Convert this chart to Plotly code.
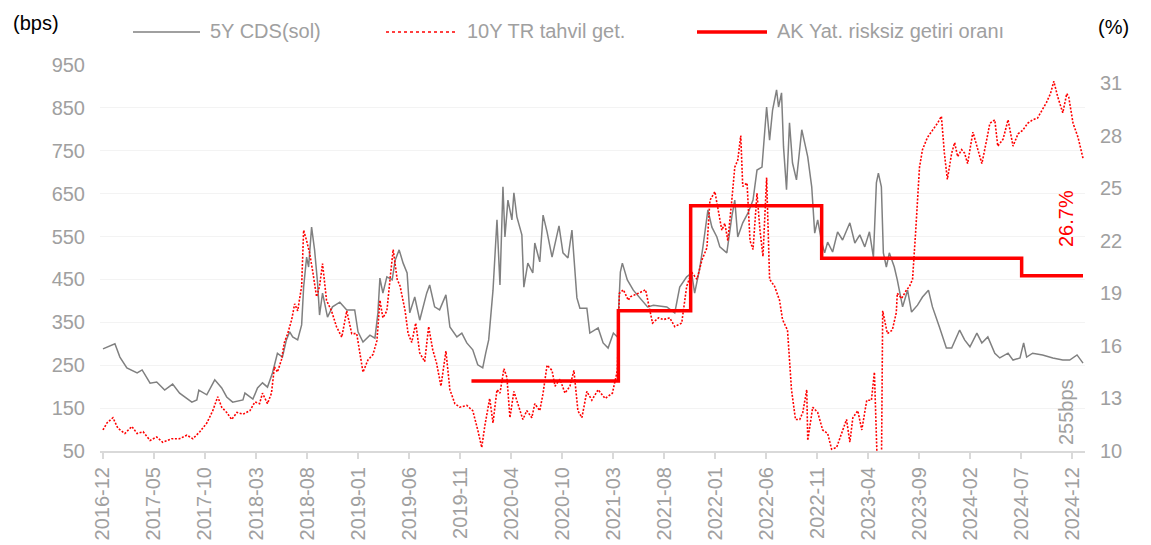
import plotly.graph_objects as go
import pandas as pd

# ---------------- data ----------------
cds_dates = [
    "2016-12-01", "2017-01-06", "2017-01-21", "2017-02-11", "2017-03-14", "2017-03-29", "2017-04-22",
    "2017-05-12", "2017-06-05", "2017-06-29", "2017-07-20", "2017-08-26", "2017-09-10", "2017-09-16",
    "2017-10-10", "2017-11-03", "2017-11-24", "2017-12-09", "2017-12-27", "2018-01-27", "2018-02-02",
    "2018-02-26", "2018-03-12", "2018-03-27", "2018-04-11", "2018-04-26", "2018-05-11", "2018-05-26",
    "2018-06-07", "2018-06-17", "2018-06-26", "2018-07-11", "2018-07-23", "2018-07-29", "2018-08-07",
    "2018-08-13", "2018-08-22", "2018-08-31", "2018-09-09", "2018-09-15", "2018-09-24", "2018-10-09",
    "2018-10-24", "2018-11-15", "2018-12-06", "2018-12-30", "2019-01-09", "2019-01-24", "2019-02-14",
    "2019-03-01", "2019-03-10", "2019-03-16", "2019-03-25", "2019-04-06", "2019-04-22", "2019-05-01",
    "2019-05-13", "2019-05-25", "2019-06-06", "2019-06-14", "2019-06-29", "2019-07-14", "2019-08-04",
    "2019-08-13", "2019-08-28", "2019-09-12", "2019-10-01", "2019-10-13", "2019-11-03", "2019-11-18",
    "2019-12-03", "2019-12-21", "2020-01-05", "2020-01-20", "2020-01-29", "2020-02-07", "2020-02-20",
    "2020-03-03", "2020-03-12", "2020-03-21", "2020-03-27", "2020-04-05", "2020-04-17", "2020-04-23",
    "2020-05-02", "2020-05-17", "2020-05-23", "2020-06-04", "2020-06-19", "2020-06-25", "2020-07-10",
    "2020-07-20", "2020-08-01", "2020-08-16", "2020-09-06", "2020-09-18", "2020-10-03", "2020-10-15",
    "2020-10-30", "2020-11-08", "2020-11-29", "2020-12-08", "2021-01-02", "2021-01-17", "2021-02-01",
    "2021-02-17", "2021-03-01", "2021-03-10", "2021-03-16", "2021-03-31", "2021-04-18", "2021-05-09",
    "2021-05-31", "2021-06-18", "2021-07-28", "2021-08-21", "2021-09-05", "2021-09-26", "2021-10-11",
    "2021-10-20", "2021-11-05", "2021-11-14", "2021-11-29", "2021-12-11", "2021-12-26", "2022-01-04",
    "2022-01-25", "2022-02-09", "2022-02-18", "2022-02-27", "2022-03-14", "2022-03-30", "2022-04-14",
    "2022-04-26", "2022-05-11", "2022-05-25", "2022-06-03", "2022-06-12", "2022-06-24", "2022-06-30",
    "2022-07-09", "2022-07-15", "2022-07-24", "2022-08-02", "2022-08-11", "2022-08-23", "2022-09-08",
    "2022-09-17", "2022-09-26", "2022-10-08", "2022-10-17", "2022-10-26", "2022-11-07", "2022-11-16",
    "2022-11-25", "2022-12-10", "2022-12-25", "2023-01-09", "2023-01-31", "2023-02-15", "2023-03-02",
    "2023-03-17", "2023-03-31", "2023-04-12", "2023-04-21", "2023-04-27", "2023-05-06", "2023-05-12",
    "2023-05-21", "2023-05-30", "2023-06-14", "2023-06-23", "2023-06-30", "2023-07-09", "2023-07-24",
    "2023-08-05", "2023-08-23", "2023-09-07", "2023-09-25", "2023-10-07", "2023-10-28", "2023-11-18",
    "2023-12-04", "2023-12-28", "2024-01-12", "2024-01-28", "2024-02-18", "2024-03-04", "2024-03-22",
    "2024-04-12", "2024-04-27", "2024-05-22", "2024-06-06", "2024-06-27", "2024-07-08", "2024-07-17",
    "2024-08-04", "2024-09-03", "2024-10-04", "2024-11-03", "2024-11-24", "2024-12-16", "2025-01-03",
]
cds_values = [
    288, 300, 269, 244, 232, 239, 208,
    211, 192, 206, 185, 164, 169, 192,
    181, 216, 197, 176, 164, 169, 185,
    171, 197, 209, 199, 232, 278, 269,
    309, 328, 316, 309, 344, 432, 502,
    479, 572, 519, 442, 367, 418, 362,
    386, 397, 379, 379, 328, 304, 320,
    313, 372, 453, 418, 456, 449, 495,
    519, 488, 465, 372, 409, 355, 418,
    437, 386, 379, 414, 339, 316, 325,
    302, 286, 251, 244, 278, 309, 425,
    589, 437, 666, 549, 635, 589, 652,
    596, 554, 432, 488, 465, 535, 491,
    600, 561, 502, 575, 512, 500, 565,
    407, 383, 383, 325, 337, 302, 290,
    325, 316, 467, 488, 449, 425, 407,
    386, 390, 386, 372, 432, 456, 465,
    418, 479, 526, 612, 572, 549, 526,
    512, 596, 635, 549, 582, 605, 635,
    705, 712, 852, 775, 845, 892, 852,
    885, 759, 659, 815, 722, 682, 799,
    768, 736, 666, 558, 589, 537, 512,
    537, 514, 561, 542, 582, 535, 554,
    526, 561, 502, 675, 698, 666, 512,
    479, 512, 479, 449, 418, 386, 425,
    374, 390, 409, 425, 386, 339, 290,
    290, 332, 309, 293, 325, 302, 316,
    278, 267, 278, 262, 267, 302, 269,
    278, 274, 267, 262, 262, 274, 255,
]

tr10_dates = [
    "2016-12-01", "2016-12-13", "2016-12-31", "2017-01-15", "2017-02-05", "2017-02-26", "2017-03-14",
    "2017-04-01", "2017-04-22", "2017-05-12", "2017-05-30", "2017-06-26", "2017-07-20", "2017-08-11",
    "2017-08-29", "2017-09-19", "2017-10-10", "2017-10-28", "2017-11-12", "2017-11-24", "2017-12-09",
    "2017-12-24", "2018-01-09", "2018-01-27", "2018-02-17", "2018-03-04", "2018-03-18", "2018-03-27",
    "2018-04-11", "2018-04-23", "2018-05-02", "2018-05-11", "2018-05-23", "2018-06-01", "2018-06-11",
    "2018-06-23", "2018-07-02", "2018-07-11", "2018-07-23", "2018-07-29", "2018-08-07", "2018-08-16",
    "2018-08-25", "2018-09-06", "2018-09-15", "2018-09-24", "2018-10-06", "2018-10-21", "2018-11-05",
    "2018-11-21", "2018-12-06", "2018-12-21", "2019-01-05", "2019-01-15", "2019-01-24", "2019-02-08",
    "2019-02-23", "2019-03-07", "2019-03-16", "2019-03-25", "2019-04-06", "2019-04-16", "2019-04-25",
    "2019-05-07", "2019-05-16", "2019-05-31", "2019-06-09", "2019-06-20", "2019-07-02", "2019-07-14",
    "2019-07-29", "2019-08-10", "2019-08-22", "2019-09-03", "2019-09-16", "2019-10-01", "2019-10-13",
    "2019-10-28", "2019-11-12", "2019-12-03", "2019-12-21", "2020-01-05", "2020-01-17", "2020-01-26",
    "2020-02-10", "2020-02-20", "2020-03-03", "2020-03-12", "2020-03-24", "2020-04-02", "2020-04-11",
    "2020-04-23", "2020-05-05", "2020-05-20", "2020-06-01", "2020-06-16", "2020-06-25", "2020-07-10",
    "2020-07-20", "2020-08-01", "2020-08-16", "2020-08-25", "2020-09-09", "2020-09-24", "2020-10-09",
    "2020-10-21", "2020-11-02", "2020-11-14", "2020-11-29", "2020-12-14", "2021-01-02", "2021-01-23",
    "2021-02-14", "2021-03-01", "2021-03-07", "2021-03-19", "2021-04-03", "2021-04-09", "2021-05-03",
    "2021-05-25", "2021-06-15", "2021-07-03", "2021-07-18", "2021-08-06", "2021-08-21", "2021-09-11",
    "2021-09-26", "2021-10-11", "2021-10-27", "2021-11-11", "2021-11-26", "2021-12-05", "2021-12-20",
    "2021-12-29", "2022-01-10", "2022-01-19", "2022-01-28", "2022-02-09", "2022-02-18", "2022-02-27",
    "2022-03-08", "2022-03-14", "2022-03-27", "2022-04-05", "2022-04-14", "2022-04-26", "2022-05-05",
    "2022-05-14", "2022-05-25", "2022-06-03", "2022-06-18", "2022-07-03", "2022-07-12", "2022-07-27",
    "2022-08-08", "2022-08-20", "2022-09-02", "2022-09-11", "2022-09-23", "2022-09-26", "2022-10-11",
    "2022-10-26", "2022-11-10", "2022-11-25", "2022-12-07", "2022-12-22", "2023-01-06", "2023-01-21",
    "2023-01-31", "2023-02-09", "2023-02-24", "2023-03-08", "2023-03-23", "2023-04-06", "2023-04-15",
    "2023-04-24", "2023-05-06", "2023-05-10", "2023-05-24", "2023-06-08", "2023-06-20", "2023-06-23",
    "2023-07-06", "2023-07-21", "2023-07-30", "2023-08-08", "2023-08-17", "2023-08-23", "2023-08-29",
    "2023-09-07", "2023-09-22", "2023-10-07", "2023-10-22", "2023-11-03", "2023-11-12", "2023-11-21",
    "2023-12-04", "2023-12-13", "2023-12-22", "2024-01-03", "2024-01-12", "2024-01-21", "2024-02-06",
    "2024-02-21", "2024-03-04", "2024-03-19", "2024-03-28", "2024-04-12", "2024-04-21", "2024-05-07",
    "2024-05-22", "2024-06-06", "2024-06-21", "2024-07-05", "2024-07-20", "2024-08-04", "2024-08-19",
    "2024-09-03", "2024-09-15", "2024-09-27", "2024-10-07", "2024-10-19", "2024-11-03", "2024-11-15",
    "2024-11-21", "2024-12-04", "2024-12-19", "2025-01-03",
]
tr10_values = [
    11.2, 11.6, 11.9, 11.3, 11.0, 11.4, 11.0,
    11.1, 10.6, 10.8, 10.5, 10.7, 10.7, 10.9,
    10.7, 11.1, 11.6, 12.3, 13.1, 12.5, 12.2,
    11.8, 12.2, 12.1, 12.3, 12.8, 12.7, 13.3,
    12.7, 13.3, 14.8, 14.5, 15.2, 16.2, 16.7,
    17.5, 18.4, 18.0, 19.4, 22.6, 22.0, 21.3,
    20.3, 18.8, 19.4, 20.7, 18.6, 18.0, 17.1,
    16.5, 18.0, 16.7, 16.7, 15.6, 14.5, 15.2,
    15.5, 16.3, 18.6, 17.6, 18.0, 19.9, 21.5,
    19.8, 19.4, 18.0, 16.7, 16.2, 17.3, 15.6,
    15.1, 17.1, 15.8, 15.0, 13.7, 15.7, 13.5,
    12.7, 12.5, 12.6, 12.3, 11.2, 10.2, 11.4,
    13.0, 11.6, 13.5, 13.3, 14.7, 14.2, 11.9,
    13.4, 12.7, 11.8, 12.3, 11.9, 12.7, 12.3,
    13.3, 14.9, 14.6, 13.7, 14.1, 13.3, 13.7,
    14.6, 12.3, 11.9, 13.4, 12.9, 13.5, 13.0,
    13.3, 14.6, 19.0, 19.2, 18.6, 18.8, 19.0,
    19.2, 17.3, 17.6, 17.5, 17.6, 17.1, 17.3,
    19.4, 20.2, 19.8, 20.9, 21.6, 24.3, 24.8,
    23.8, 22.6, 23.0, 22.0, 24.3, 26.2, 26.6,
    28.0, 25.1, 25.3, 22.0, 21.5, 24.7, 22.6,
    21.1, 25.6, 19.8, 19.4, 18.6, 17.5, 16.9,
    13.5, 11.8, 11.8, 12.2, 13.5, 10.6, 12.5,
    12.2, 11.2, 11.0, 10.1, 10.2, 11.0, 11.8,
    10.5, 11.9, 12.3, 11.2, 12.9, 12.9, 14.5,
    9.0, 8.6, 18.0, 16.7, 16.9, 17.9, 19.0,
    18.7, 19.2, 19.4, 19.8, 22.4, 24.3, 26.2,
    27.2, 27.9, 28.3, 28.7, 29.1, 27.0, 25.5,
    27.0, 27.6, 26.8, 27.2, 27.0, 26.4, 28.2,
    27.2, 26.4, 27.8, 28.7, 28.9, 27.4, 27.8,
    28.9, 27.4, 28.1, 28.3, 28.7, 28.9, 29.0,
    29.5, 29.9, 30.4, 31.1, 30.2, 29.3, 30.4,
    30.2, 28.7, 27.9, 26.7,
]

rf_dates = ["2019-12-17", "2021-03-04", "2021-10-08", "2022-11-07", "2024-07-02", "2025-01-03"]
rf_values = [14, 18, 24, 21, 20, 20]

x_tick_labels = [
    "2016-12", "2017-05", "2017-10", "2018-03", "2018-08", "2019-01", "2019-06",
    "2019-11", "2020-04", "2020-10", "2021-03", "2021-08", "2022-01", "2022-06",
    "2022-11", "2023-04", "2023-09", "2024-02", "2024-07", "2024-12",
]
left_ticks = [50, 150, 250, 350, 450, 550, 650, 750, 850, 950]
right_ticks = [10, 13, 16, 19, 22, 25, 28, 31]

series_names = ["5Y CDS(sol)", "10Y TR tahvil get.", "AK Yat. risksiz getiri oranı"]
last_yield_label = "26.7%"
last_cds_label = "255bps"

# ---------------- styling ----------------
FONT = "Liberation Sans, Arial, sans-serif"
GRAY_TXT = "#a0a0a0"
CDS_COLOR = "#808080"
RED = "#ff0000"
W, H = 1151, 545
L, R, T, B = 100, 66, 65, 94

tick_positions = pd.date_range(pd.Timestamp(x_tick_labels[0] + "-01"),
                               pd.Timestamp(x_tick_labels[-1] + "-01"),
                               periods=len(x_tick_labels))

fig = go.Figure()
fig.add_trace(go.Scatter(x=pd.to_datetime(cds_dates), y=cds_values, name=series_names[0],
                         mode="lines", line=dict(color=CDS_COLOR, width=1.5), yaxis="y"))
fig.add_trace(go.Scatter(x=pd.to_datetime(tr10_dates), y=tr10_values, name=series_names[1],
                         mode="lines", line=dict(color=RED, width=1.6, dash="2px,1.6px"), yaxis="y2"))
fig.add_trace(go.Scatter(x=pd.to_datetime(rf_dates), y=rf_values, name=series_names[2],
                         mode="lines", line=dict(color=RED, width=3.5, shape="hv"), yaxis="y2"))

pw, ph = W - L - R, H - T - B


def px_x(p):
    return (p - L) / pw


def px_y(p):
    return (H - B - p) / ph


shapes = []
annotations = []
# manual legend
legend_items = [
    (133, 200, dict(color=CDS_COLOR, width=1.5), 208, series_names[0]),
    (386, 455, dict(color=RED, width=1.6, dash="dot"), 465, series_names[1]),
    (697, 767, dict(color=RED, width=3.5), 775, series_names[2]),
]
for x0, x1, ln, tx, name in legend_items:
    shapes.append(dict(type="line", xref="paper", yref="paper",
                       x0=px_x(x0), x1=px_x(x1), y0=px_y(32), y1=px_y(32), line=ln))
    annotations.append(dict(text=name, xref="paper", yref="paper", x=px_x(tx), y=px_y(31),
                            xanchor="left", yanchor="middle", showarrow=False,
                            font=dict(family=FONT, size=20, color=GRAY_TXT)))

annotations += [
    dict(text="(bps)", xref="paper", yref="paper", x=px_x(11), y=px_y(23), xanchor="left",
         yanchor="middle", showarrow=False, font=dict(family=FONT, size=20, color="#000000")),
    dict(text="(%)", xref="paper", yref="paper", x=px_x(1113), y=px_y(27), xanchor="center",
         yanchor="middle", showarrow=False, font=dict(family=FONT, size=20, color="#000000")),
    dict(text=last_yield_label, xref="paper", yref="paper", x=px_x(1066), y=px_y(219),
         xanchor="center", yanchor="middle", textangle=-90, showarrow=False,
         font=dict(family=FONT, size=20, color=RED)),
    dict(text=last_cds_label, xref="paper", yref="paper", x=px_x(1066), y=px_y(412),
         xanchor="center", yanchor="middle", textangle=-90, showarrow=False,
         font=dict(family=FONT, size=20, color=GRAY_TXT)),
]

fig.update_layout(
    width=W, height=H,
    margin=dict(l=L, r=R, t=T, b=B, pad=0, autoexpand=False),
    paper_bgcolor="white", plot_bgcolor="white",
    showlegend=False,
    font=dict(family=FONT, size=20, color=GRAY_TXT),
    xaxis=dict(
        type="date", automargin=False,
        range=[pd.Timestamp("2016-11-22"), pd.Timestamp("2025-01-09")],
        tickmode="array", tickvals=tick_positions, ticktext=x_tick_labels,
        tickangle=-90, ticks="outside", ticklen=6, tickwidth=2, tickcolor="#d9d9d9",
        showline=True, linecolor="#d9d9d9", linewidth=2,
        showgrid=False, zeroline=False,
        tickfont=dict(family=FONT, size=20, color=GRAY_TXT),
    ),
    yaxis=dict(
        range=[50, 950], tickmode="array", tickvals=left_ticks, automargin=False,
        showgrid=True, gridcolor="#f3f3f3", gridwidth=1, zeroline=False,
        ticks="", ticklabelstandoff=14, showline=False,
        tickfont=dict(family=FONT, size=20, color=GRAY_TXT),
    ),
    yaxis2=dict(
        range=[10, 32.03], tickmode="array", tickvals=right_ticks, ticksuffix="%",
        overlaying="y", side="right", showgrid=False, zeroline=False, automargin=False,
        ticks="", ticklabelstandoff=14, showline=False,
        tickfont=dict(family=FONT, size=20, color=GRAY_TXT),
    ),
    shapes=shapes,
    annotations=annotations,
)

fig.write_html(
    "out.html",
    config={"displayModeBar": False, "staticPlot": True},
    post_script="document.body.style.margin='0';document.body.style.overflow='hidden';",
)
